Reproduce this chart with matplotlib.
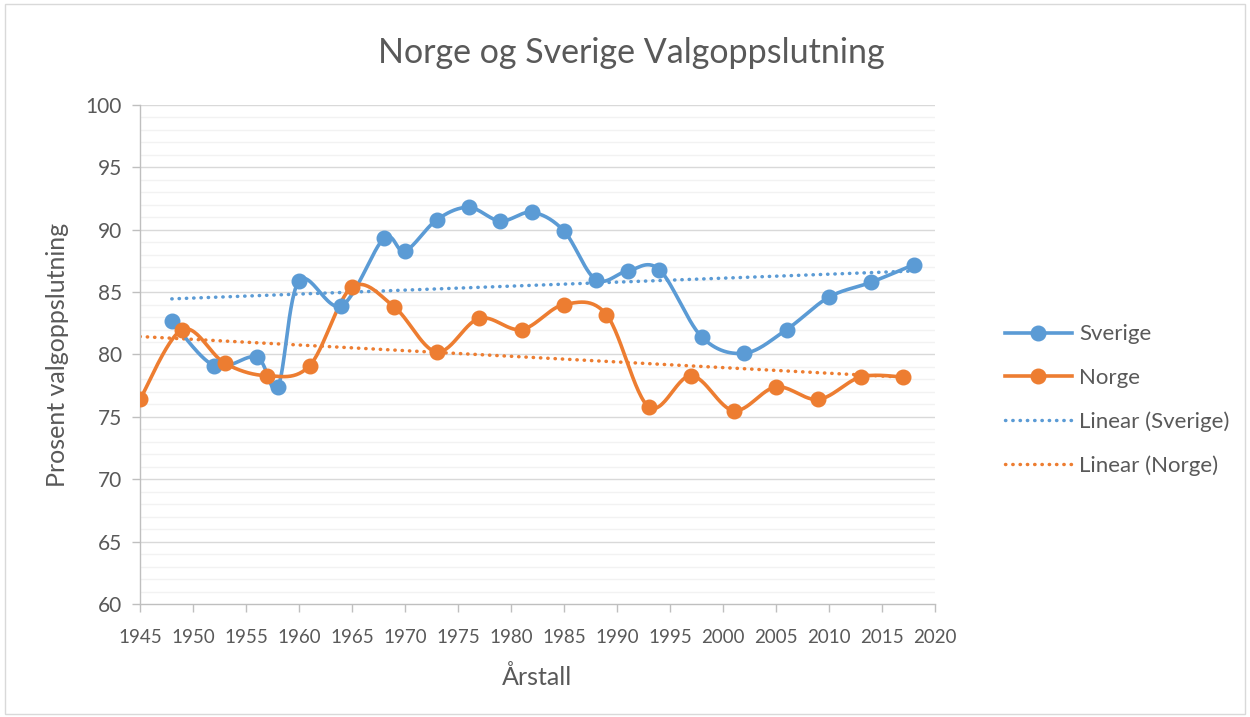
import numpy as np
import matplotlib
matplotlib.use("Agg")
import matplotlib.pyplot as plt
from matplotlib.lines import Line2D
from matplotlib.patches import Rectangle

plt.rcParams['font.family'] = ['Lato', 'DejaVu Sans']

sverige_years = [1948, 1952, 1956, 1958, 1960, 1964, 1968, 1970, 1973, 1976, 1979,
                 1982, 1985, 1988, 1991, 1994, 1998, 2002, 2006, 2010, 2014, 2018]
sverige_vals = [82.7, 79.1, 79.8, 77.4, 85.9, 83.9, 89.3, 88.3, 90.8, 91.8, 90.7,
                91.4, 89.9, 86.0, 86.7, 86.8, 81.4, 80.1, 82.0, 84.6, 85.8, 87.2]
norge_years = [1945, 1949, 1953, 1957, 1961, 1965, 1969, 1973, 1977, 1981, 1985,
               1989, 1993, 1997, 2001, 2005, 2009, 2013, 2017]
norge_vals = [76.4, 82.0, 79.3, 78.3, 79.1, 85.4, 83.8, 80.2, 82.9, 82.0, 84.0,
              83.2, 75.8, 78.3, 75.5, 77.4, 76.4, 78.2, 78.2]
x_ticks = list(range(1945, 2021, 5))
y_ticks = list(range(60, 101, 5))

BLUE = '#5B9BD5'
ORANGE = '#ED7D31'
TXT = '#595959'


def smooth(xs, ys, n=30):
    """Excel-like smoothed curve (Catmull-Rom Bezier through the data points)."""
    xs = np.asarray(xs, float)
    ys = np.asarray(ys, float)
    P = np.column_stack([xs, ys])
    out = []
    for i in range(len(P) - 1):
        p0 = P[i - 1] if i > 0 else P[i]
        p1 = P[i]
        p2 = P[i + 1]
        p3 = P[i + 2] if i + 2 < len(P) else P[i + 1]
        c1 = p1 + (p2 - p0) / 6.0
        c2 = p2 - (p3 - p1) / 6.0
        t = np.linspace(0, 1, n)[:, None]
        seg = ((1 - t) ** 3) * p1 + 3 * ((1 - t) ** 2) * t * c1 + 3 * (1 - t) * t ** 2 * c2 + t ** 3 * p2
        out.append(seg if i == 0 else seg[1:])
    seg = np.vstack(out)
    return seg[:, 0], seg[:, 1]


fig = plt.figure(figsize=(12.5, 7.17), dpi=100)
fig.patches.append(Rectangle((0.004, 0.004), 0.992, 0.99, transform=fig.transFigure,
                             fill=False, edgecolor='#d9d9d9', linewidth=1.0))
ax = fig.add_axes([140 / 1250, 1 - 604 / 717, (935 - 140) / 1250, (604 - 105) / 717])

# grid
for v in np.arange(60, 100.01, 1):
    if v % 5 == 0:
        continue
    ax.axhline(v, color='#f2f2f2', lw=1.0, zorder=0)
for v in y_ticks[1:]:
    ax.axhline(v, color='#d9d9d9', lw=1.0, zorder=0)

# trendlines
for yrs, vals, col in [(sverige_years, sverige_vals, BLUE), (norge_years, norge_vals, ORANGE)]:
    a, b = np.polyfit(yrs, vals, 1)
    xx = np.array([min(yrs), max(yrs)])
    ax.plot(xx, a * xx + b, color=col, lw=2.5, linestyle=(0, (0.1, 2.0)),
            dash_capstyle='round', zorder=2)

for yrs, vals, col in [(sverige_years, sverige_vals, BLUE), (norge_years, norge_vals, ORANGE)]:
    sx, sy = smooth(yrs, vals)
    ax.plot(sx, sy, color=col, lw=2.6, zorder=3, solid_capstyle='round')
    ax.plot(yrs, vals, 'o', color=col, markersize=10.5, zorder=4)

ax.set_xlim(1945, 2020)
ax.set_ylim(60, 100)
ax.set_xticks(x_ticks)
ax.set_yticks(y_ticks)
for s in ['top', 'right']:
    ax.spines[s].set_visible(False)
for s in ['left', 'bottom']:
    ax.spines[s].set_color('#bfbfbf')
    ax.spines[s].set_linewidth(1.0)
ax.tick_params(axis='both', colors='#bfbfbf', labelcolor=TXT, length=6, width=1)
ax.tick_params(axis='y', pad=7, labelsize=15)
ax.tick_params(axis='x', pad=12, labelsize=13.5)

ax.set_xlabel('Årstall', fontsize=18, color=TXT, labelpad=14)
ax.set_ylabel('Prosent valgoppslutning', fontsize=18, color=TXT, labelpad=12)
fig.text(0.505, 1 - 53 / 717, 'Norge og Sverige Valgoppslutning', ha='center', va='center',
         fontsize=24.5, color=TXT)

handles = [
    Line2D([], [], color=BLUE, lw=2.6, marker='o', markersize=10.5),
    Line2D([], [], color=ORANGE, lw=2.6, marker='o', markersize=10.5),
    Line2D([], [], color=BLUE, lw=2.5, linestyle=(0, (0.1, 2.0)), dash_capstyle='round'),
    Line2D([], [], color=ORANGE, lw=2.5, linestyle=(0, (0.1, 2.0)), dash_capstyle='round'),
]
labels = ['Sverige', 'Norge', 'Linear (Sverige)', 'Linear (Norge)']
leg = fig.legend(handles, labels, loc='center left', bbox_to_anchor=(985 / 1250, 1 - 400 / 717),
                 frameon=False, fontsize=16, handlelength=3.0, labelspacing=1.05,
                 handletextpad=0.35, labelcolor=TXT)

fig.savefig('out.png', dpi=100)
